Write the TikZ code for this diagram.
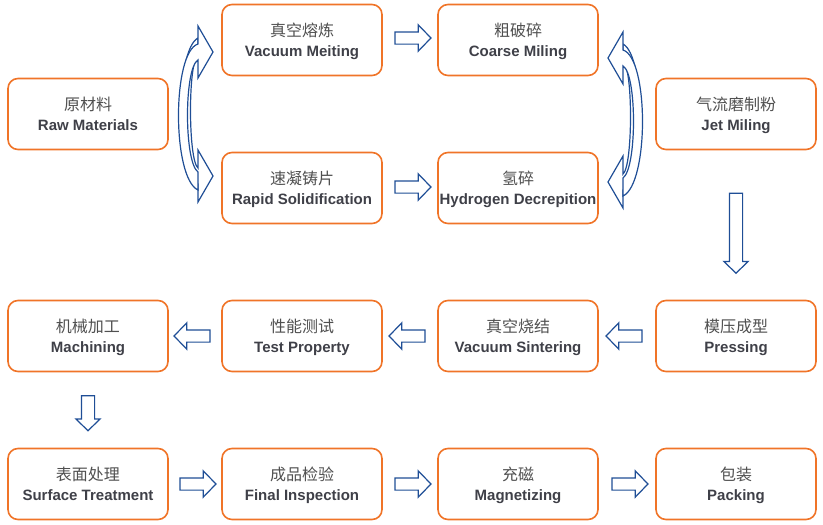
\documentclass[tikz,border=0pt]{standalone}
\usepackage{fontspec}
\setmainfont{Liberation Sans}
\newfontfamily\cjk{Noto Sans CJK SC}
\usetikzlibrary{shapes.arrows,calc}
\definecolor{boxorange}{HTML}{F07428}
\definecolor{arrowblue}{HTML}{1F4E96}
\definecolor{cngray}{HTML}{505050}
\definecolor{engray}{HTML}{3F4048}
\tikzset{
  pbox/.style={draw=boxorange, line width=1.6pt, rounded corners=10pt, minimum width=160pt, minimum height=71pt, inner sep=0pt, fill=white},
  cntext/.style={font=\cjk\fontsize{16pt}{18pt}\selectfont, text=cngray, inner sep=0pt},
  entext/.style={font=\bfseries\fontsize{15pt}{17pt}\selectfont, text=engray, inner sep=0pt, anchor=base},
  blockarrow/.style={single arrow, draw=arrowblue, fill=white, line width=1.2pt, inner xsep=0pt, inner ysep=5.5pt, single arrow head extend=7pt, single arrow tip angle=92, anchor=center},
  harrow/.style={blockarrow, minimum height=36pt},
  curvearrow/.style={draw=arrowblue, fill=white, line width=1.2pt, line join=miter}
}
\newcommand\procbox[5]{%
  \node[pbox] (#1) at (#2,#3) {};
  \node[cntext] (#1-cn) at ($(#1.center)+(0,-9.5)$) {#4};
  \node[entext] (#1-en) at ($(#1.center)+(0,16)$) {#5};
}
\begin{document}
\begin{tikzpicture}[x=1pt,y=-1pt]
\useasboundingbox (0,0) rectangle (823,525);
% boxes
\procbox{raw}{88}{114}{原材料}{Raw Materials}
\procbox{vm}{302}{40}{真空熔炼}{Vacuum Meiting}
\procbox{rs}{302}{188}{速凝铸片}{Rapid Solidification}
\procbox{cm}{518}{40}{粗破碎}{Coarse Miling}
\procbox{hd}{518}{188}{氢碎}{Hydrogen Decrepition}
\procbox{jm}{736}{114}{气流磨制粉}{Jet Miling}
\procbox{pr}{736}{336}{模压成型}{Pressing}
\procbox{vs}{518}{336}{真空烧结}{Vacuum Sintering}
\procbox{tp}{302}{336}{性能测试}{Test Property}
\procbox{ma}{88}{336}{机械加工}{Machining}
\procbox{st}{88}{484}{表面处理}{Surface Treatment}
\procbox{fi}{302}{484}{成品检验}{Final Inspection}
\procbox{mg}{518}{484}{充磁}{Magnetizing}
\procbox{pk}{736}{484}{包装}{Packing}
% straight block arrows
\node[harrow] (a1) at ($(vm.east)!0.5!(cm.west)+(0,-2)$) {};
\node[harrow] (a2) at ($(rs.east)!0.5!(hd.west)+(0,-1)$) {};
\node[blockarrow, minimum height=80pt, inner ysep=6pt, single arrow head extend=5.5pt, rotate=-90] (a3) at ($(jm.south)!0.5!(pr.north)+(0,5)$) {};
\node[harrow, rotate=180] (a4) at ($(pr.west)!0.5!(vs.east)$) {};
\node[harrow, rotate=180] (a5) at ($(vs.west)!0.5!(tp.east)$) {};
\node[harrow, rotate=180] (a6) at ($(tp.west)!0.5!(ma.east)$) {};
\node[blockarrow, minimum height=35pt, inner ysep=6pt, single arrow head extend=5.5pt, rotate=-90] (a7) at ($(ma.south)!0.5!(st.north)$) {};
\node[harrow] (a8) at ($(st.east)!0.5!(fi.west)$) {};
\node[harrow] (a9) at ($(fi.east)!0.5!(mg.west)$) {};
\node[harrow] (a10) at ($(mg.east)!0.5!(pk.west)$) {};
% curved arrows, left pair
\draw[curvearrow] (213,176) -- (198,202) -- (198,184) .. controls (175,176) and (175,50) .. (198,38) -- (198,56) .. controls (188,60) and (188,160) .. (198,168) -- (198,150) -- cycle;
\draw[curvearrow] (213,52) -- (198,26) -- (198,44) .. controls (172,52) and (172,178) .. (198,190) -- (198,172) .. controls (184,162) and (184,68) .. (198,60) -- (198,78) -- cycle;
% curved arrows, right pair
\draw[curvearrow] (608,182) -- (623,208) -- (623,190) .. controls (646,182) and (646,56) .. (623,44) -- (623,62) .. controls (633,66) and (633,166) .. (623,174) -- (623,156) -- cycle;
\draw[curvearrow] (608,58) -- (623,32) -- (623,50) .. controls (649,58) and (649,184) .. (623,196) -- (623,178) .. controls (637,168) and (637,74) .. (623,66) -- (623,84) -- cycle;
\end{tikzpicture}
\end{document}
